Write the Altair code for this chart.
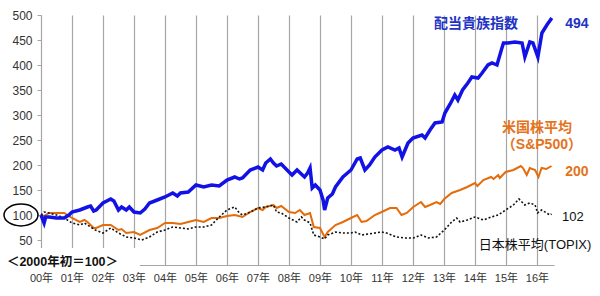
import altair as alt
import pandas as pd

# ---- data (time in years, index 2000 start = 100) ----
blue_t = [2000.0, 2000.05, 2000.1, 2000.15, 2000.26, 2000.5, 2000.75, 2000.9, 2001.0, 2001.25,
          2001.5, 2001.6, 2001.7, 2001.78, 2002.0, 2002.25, 2002.35, 2002.5, 2002.6, 2002.75,
          2002.85, 2003.0, 2003.2, 2003.35, 2003.5, 2003.75, 2004.0, 2004.25, 2004.4, 2004.5,
          2004.75, 2005.0, 2005.25, 2005.5, 2005.75, 2006.0, 2006.25, 2006.4, 2006.5, 2006.75,
          2007.0, 2007.15, 2007.25, 2007.4, 2007.5, 2007.6, 2007.75, 2008.0, 2008.1, 2008.26,
          2008.5, 2008.6, 2008.68, 2008.75, 2008.85, 2009.0, 2009.1, 2009.15, 2009.25, 2009.4,
          2009.5, 2009.74, 2010.0, 2010.2, 2010.3, 2010.45, 2010.6, 2010.77, 2011.0, 2011.19,
          2011.42, 2011.55, 2011.65, 2011.84, 2012.0, 2012.29, 2012.39, 2012.55, 2012.71, 2012.94,
          2013.03, 2013.2, 2013.35, 2013.45, 2013.6, 2013.77, 2013.9, 2014.1, 2014.23, 2014.42,
          2014.55, 2014.71, 2014.87, 2014.92, 2015.06, 2015.29, 2015.52, 2015.61, 2015.77, 2015.87,
          2016.03, 2016.16, 2016.32, 2016.48]
blue_v = [100, 92, 84, 96, 96, 94, 94, 100, 106, 110,
          116, 118, 108, 110, 124, 132, 128, 110, 116, 110,
          116, 106, 104, 112, 124, 130, 136, 144, 138, 144,
          146, 160, 156, 160, 158, 170, 176, 172, 174, 190,
          196, 190, 204, 212, 204, 198, 202, 186, 180, 190,
          176, 184, 194, 154, 160, 150, 130, 110, 134, 142,
          156, 176, 190, 212, 214, 190, 200, 216, 230, 236,
          230, 234, 216, 244, 254, 260, 254, 270, 284, 286,
          304, 322, 340, 330, 350, 364, 376, 374, 384, 400,
          404, 400, 434, 444, 444, 446, 444, 416, 446, 444,
          416, 464, 480, 494]

orange_t = [2000.0, 2000.1, 2000.26, 2000.5, 2000.75, 2000.9, 2001.0, 2001.25, 2001.4, 2001.5,
            2001.7, 2001.78, 2002.0, 2002.25, 2002.5, 2002.6, 2002.75, 2003.0, 2003.2, 2003.5,
            2003.75, 2004.0, 2004.25, 2004.5, 2004.75, 2005.0, 2005.25, 2005.5, 2005.75, 2006.0,
            2006.25, 2006.5, 2006.75, 2007.0, 2007.15, 2007.25, 2007.5, 2007.6, 2007.75, 2008.0,
            2008.2, 2008.35, 2008.5, 2008.68, 2008.8, 2009.0, 2009.15, 2009.25, 2009.5, 2009.74,
            2010.0, 2010.2, 2010.34, 2010.5, 2010.77, 2010.99, 2011.26, 2011.47, 2011.63, 2011.8,
            2012.01, 2012.26, 2012.39, 2012.55, 2012.76, 2012.88, 2013.01, 2013.25, 2013.52, 2013.75,
            2014.0, 2014.08, 2014.27, 2014.52, 2014.6, 2014.75, 2014.8, 2014.99, 2015.24, 2015.48,
            2015.55, 2015.67, 2015.77, 2015.94, 2016.05, 2016.15, 2016.3, 2016.47]
orange_v = [100, 98, 104, 104, 104, 98, 94, 86, 90, 86,
            74, 74, 80, 80, 70, 72, 64, 66, 60, 70,
            74, 84, 84, 82, 86, 90, 86, 94, 94, 98,
            100, 96, 106, 114, 110, 116, 120, 114, 118, 106,
            104, 110, 100, 104, 76, 74, 56, 66, 80, 86,
            94, 100, 86, 88, 100, 106, 114, 114, 100, 104,
            116, 126, 116, 120, 126, 122, 132, 144, 150, 156,
            164, 158, 170, 176, 172, 180, 174, 186, 190, 198,
            194, 180, 194, 190, 176, 194, 192, 198]

black_t = [2000.0, 2000.1, 2000.26, 2000.5, 2000.75, 2001.0, 2001.25, 2001.4, 2001.5, 2001.75,
           2002.0, 2002.25, 2002.5, 2002.75, 2003.0, 2003.25, 2003.5, 2003.75, 2004.0, 2004.25,
           2004.5, 2004.75, 2005.0, 2005.25, 2005.5, 2005.75, 2006.0, 2006.25, 2006.4, 2006.5,
           2006.75, 2007.0, 2007.25, 2007.5, 2007.6, 2007.75, 2008.0, 2008.26, 2008.4, 2008.5,
           2008.68, 2008.8, 2009.0, 2009.15, 2009.25, 2009.5, 2009.74, 2010.0, 2010.13, 2010.35,
           2010.77, 2010.99, 2011.15, 2011.47, 2011.72, 2012.01, 2012.26, 2012.49, 2012.76, 2013.01,
           2013.25, 2013.41, 2013.52, 2013.75, 2014.0, 2014.27, 2014.52, 2014.75, 2014.99, 2015.24,
           2015.42, 2015.61, 2015.77, 2015.94, 2016.02, 2016.15, 2016.42, 2016.47]
black_v = [100, 106, 104, 100, 94, 84, 80, 84, 80, 70,
           64, 74, 64, 56, 54, 50, 56, 66, 70, 76,
           74, 72, 76, 76, 80, 96, 110, 116, 104, 100,
           106, 114, 116, 120, 106, 104, 94, 86, 96, 90,
           84, 60, 56, 52, 60, 66, 64, 64, 66, 60,
           64, 66, 64, 56, 54, 54, 60, 54, 56, 70,
           86, 94, 86, 90, 96, 90, 96, 100, 110, 120,
           132, 120, 124, 120, 104, 110, 100, 102]

year_ticks = list(range(2000, 2017))
y_ticks = [50, 100, 150, 200, 250, 300, 350, 400, 450, 500]

blue_labels = [("配当貴族指数", 2014.03, 482), ("494", 2017.29, 482)]
orange_labels = [("米国株平均", 2016.0, 274), ("（S&P500）", 2016.16, 240), ("200", 2017.29, 186)]
black_labels = [("102", 2017.16, 96), ("日本株平均(TOPIX)", 2015.94, 40)]
base_label = [("＜2000年初＝100＞", 1998.9, 6)]
circle_pos = [(1999.355, 100)]
box_pos = [(1998.6, 2003.19, 34, -12)]

BLUE = "#1212e6"
BLUE_TXT = "#2233c4"
ORANGE = "#e46c0a"
ORANGE_TXT = "#e4731c"
FONT = "Arial, Liberation Sans, Noto Sans CJK JP"

xscale = alt.Scale(domain=[2000, 2016.55], nice=False, zero=False)
yscale = alt.Scale(domain=[0, 500], nice=False)

xaxis = alt.Axis(values=year_ticks, labelExpr="slice(toString(datum.value), 2) + '年'",
                 grid=True, gridColor="#a6a6a6", gridWidth=1.2, ticks=False,
                 domainColor="#a6a6a6", labelFontSize=11, labelColor="#333333",
                 labelPadding=7, title=None, labelFont=FONT,
                 labelOverlap=False, labelFlush=False)
yaxis = alt.Axis(values=y_ticks, grid=False, domainColor="#a6a6a6", tickColor="#a6a6a6",
                 tickSize=4, labelFontSize=12, labelColor="#333333", labelPadding=5,
                 title=None, labelFont=FONT, labelOverlap=False, labelFlush=False)


def enc(chart, xf="t", yf="v"):
    return chart.encode(
        x=alt.X(f"{xf}:Q", scale=xscale, axis=xaxis),
        y=alt.Y(f"{yf}:Q", scale=yscale, axis=yaxis),
    )


orange_df = pd.DataFrame({"t": orange_t, "v": orange_v})
black_df = pd.DataFrame({"t": black_t, "v": black_v})
blue_df = pd.DataFrame({"t": blue_t, "v": blue_v})

orange_line = enc(alt.Chart(orange_df).mark_line(color=ORANGE, strokeWidth=2))
black_line = enc(alt.Chart(black_df).mark_line(color="#111111", strokeWidth=1.6, strokeDash=[2, 2]))
blue_line = enc(alt.Chart(blue_df).mark_line(color=BLUE, strokeWidth=3.5))

box_df = pd.DataFrame(box_pos, columns=["t", "t2", "v", "v2"])
box = alt.Chart(box_df).mark_rect(color="white").encode(
    x=alt.X("t:Q", scale=xscale, axis=xaxis), x2="t2:Q",
    y=alt.Y("v:Q", scale=yscale, axis=yaxis), y2="v2:Q")


def text_layer(rows, color, size, weight, align="center"):
    df = pd.DataFrame(rows, columns=["text", "t", "v"])
    return enc(alt.Chart(df).mark_text(color=color, fontSize=size, fontWeight=weight,
                                       align=align, baseline="middle", font=FONT)
               ).encode(text="text:N")


blue_txt = text_layer(blue_labels, BLUE_TXT, 14, "bold")
orange_txt = text_layer(orange_labels, ORANGE_TXT, 14, "bold")
black_txt = text_layer(black_labels, "#111111", 13, "normal")
base_txt = text_layer(base_label, "#111111", 12.5, "bold", align="left")

ellipse_path = "M -1 0 A 1 0.64 0 1 1 1 0 A 1 0.64 0 1 1 -1 0 Z"
circle_df = pd.DataFrame(circle_pos, columns=["t", "v"])
circle = enc(alt.Chart(circle_df).mark_point(shape=ellipse_path, size=1156, filled=False,
                                             stroke="black", strokeWidth=1.5, opacity=1))

chart = alt.layer(orange_line, black_line, blue_line, box, blue_txt, orange_txt,
                  black_txt, base_txt, circle).properties(
    width=513, height=250,
    autosize=alt.AutoSizeParams(type="none"),
    padding={"left": 41, "top": 15, "right": 46, "bottom": 31},
    background="white",
).configure_view(stroke=None)

chart.save("out.html", embed_options={"renderer": "svg", "actions": False})
